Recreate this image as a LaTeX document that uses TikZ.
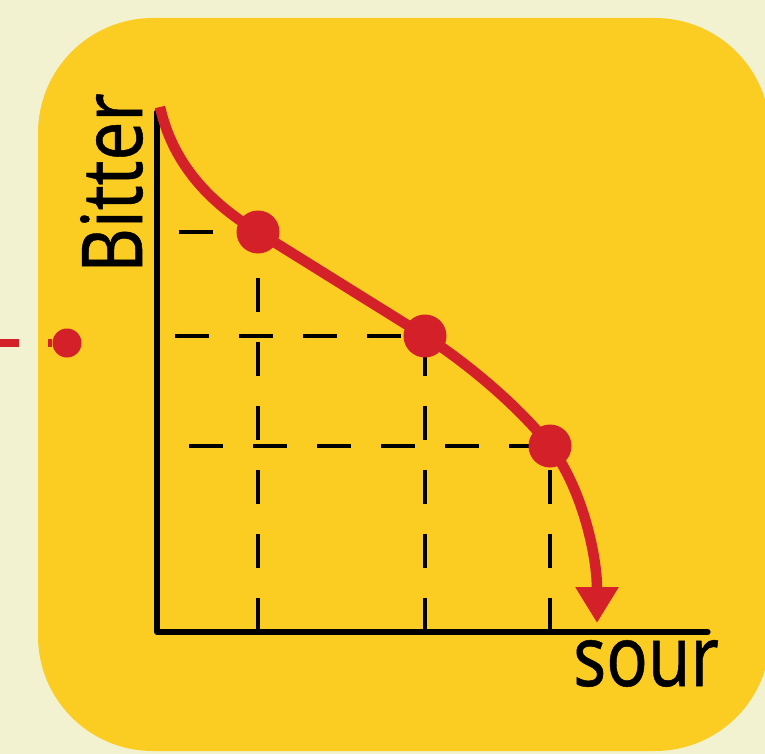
\documentclass[tikz,border=0pt]{standalone}
\usepackage{graphicx}
\usepackage{fontspec}
\setmainfont[FakeBold=0.6]{Noto Sans}
\usetikzlibrary{arrows.meta}
\definecolor{bgcream}{HTML}{F2F2D0}
\definecolor{boxyellow}{HTML}{FBCD23}
\definecolor{curvered}{HTML}{D42029}
\begin{document}
\begin{tikzpicture}[x=1pt,y=-1pt,
  axisline/.style={line width=5.2pt,line cap=round,line join=round,black},
  guide/.style={line width=3.2pt,black,dash pattern=on 34pt off 30pt},
  redcurve/.style={line width=10.5pt,curvered},
  redstub/.style={line width=8pt,curvered},
  dotnode/.style={circle,fill=curvered,inner sep=0pt,minimum size=43pt},
  smalldot/.style={circle,fill=curvered,inner sep=0pt,minimum size=29pt},
  axislabel/.style={font=\fontsize{84}{84}\selectfont,inner sep=0pt,text=black}]
\useasboundingbox (0,0) rectangle (765,754);
\fill[bgcream] (0,0) rectangle (765,754);
\begin{scope}
\clip (0,0) rectangle (765,754);
\fill[boxyellow,rounded corners=115pt] (38,18) rectangle (770,751);
\end{scope}
% positions
\coordinate (o) at (157,632);
\coordinate (ytop) at (157,112);
\coordinate (xend) at (708,632);
\coordinate (c1) at (258,232);
\coordinate (c2) at (425,336);
\coordinate (c3) at (550,446);
\coordinate (l1) at (157,232);
\coordinate (l2) at (157,336);
\coordinate (l3) at (157,446);
\coordinate (f1) at (258,632);
\coordinate (f2) at (425,632);
\coordinate (f3) at (550,632);
\coordinate (cs) at (160,107);
\coordinate (tip) at (597,623);
% guides
\draw[guide,dash phase=42pt] (l1) -- (c1);
\draw[guide,dash phase=46pt] (l2) -- (c2);
\draw[guide,dash phase=32pt] (l3) -- (c3);
\draw[guide] (f1) -- (c1);
\draw[guide] (f2) -- (c2);
\draw[guide] (f3) -- (c3);
% axes
\draw[axisline] (ytop) -- (o) -- (xend);
% curve
\draw[redcurve,-{Triangle[width=41pt,length=36pt]}] (cs) .. controls (172,160) and (205,200) .. (c1) -- (c2) .. controls (470,365) and (520,408) .. (c3) .. controls (582,488) and (597,555) .. (tip);
\node[dotnode] (d1) at (c1) {};
\node[dotnode] (d2) at (c2) {};
\node[dotnode] (d3) at (c3) {};
% left fragment
\coordinate (lf0) at (0,343);
\coordinate (lf1) at (19,343);
\draw[redstub] (lf0) -- (lf1);
\node[smalldot] (sd) at (67,343) {};
\coordinate (sdl) at (48,343);
\draw[redstub] (sdl) -- (sd);
% labels
\node[axislabel,anchor=base west] (sourlbl) at (573,686) {\scalebox{0.82}[1]{sour}};
\node[axislabel,rotate=90,anchor=base west] (bitterlbl) at (142,273) {\scalebox{0.82}[1]{Bitter}};
\end{tikzpicture}
\end{document}
